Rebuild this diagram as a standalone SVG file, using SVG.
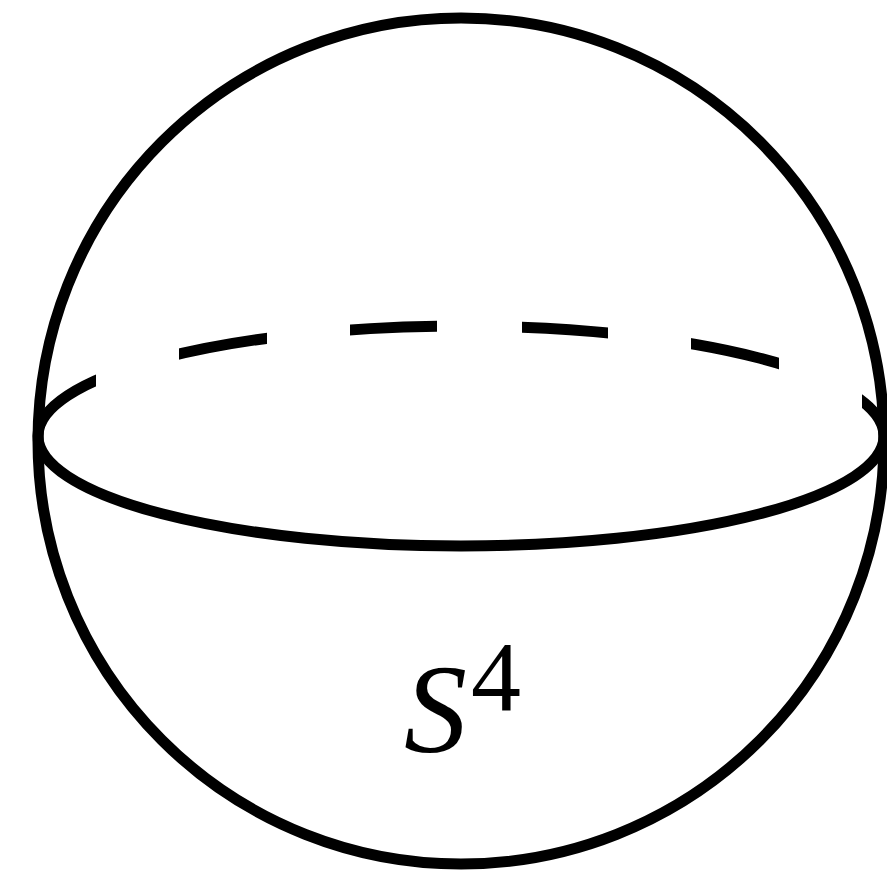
<svg xmlns="http://www.w3.org/2000/svg" width="887" height="871" viewBox="0 0 887 871">
<style>
.ln{fill:none;stroke:#000;stroke-width:11}
</style>
<defs>
<clipPath id="dashes">
<rect x="0" y="280" width="96" height="160"/>
<rect x="179" y="280" width="88" height="160"/>
<rect x="350" y="280" width="87" height="160"/>
<rect x="522" y="280" width="86" height="160"/>
<rect x="691" y="280" width="88" height="160"/>
<rect x="862" y="280" width="30" height="160"/>
</clipPath>
</defs>
<rect width="887" height="871" fill="#fff"/>
<g id="sphere">
<circle class="ln" cx="461" cy="441" r="423"/>
</g>
<g id="equator">
<path class="ln" d="M38 436 A423 110 0 0 0 884 436"/>
<path class="ln" d="M38 436 A423 110 0 0 1 884 436" clip-path="url(#dashes)"/>
</g>
<g id="label" fill="#000">
<text x="404" y="752" font-family="Liberation Serif, serif" font-size="126" font-style="italic">S</text>
<text x="471" y="710" font-family="Liberation Serif, serif" font-size="100">4</text>
</g>
</svg>
